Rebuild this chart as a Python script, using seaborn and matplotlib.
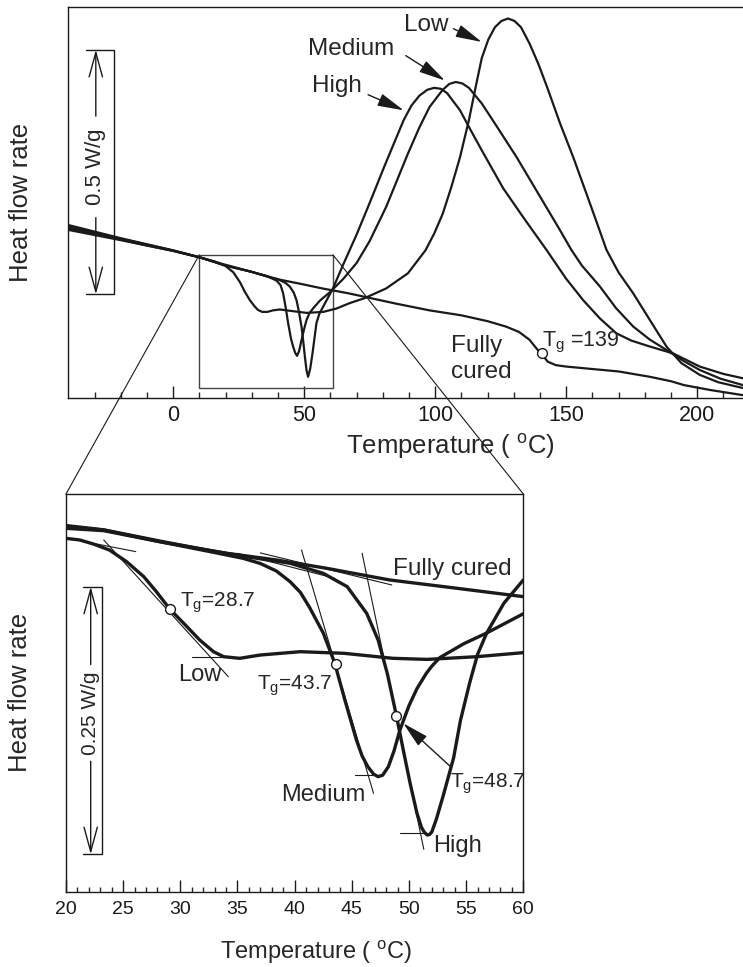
import matplotlib
matplotlib.use("Agg")
import matplotlib.pyplot as plt
from matplotlib.patches import Rectangle, ConnectionPatch
import seaborn as sns

# ---------------- data ----------------
# top panel : full DSC scan, temperature (C) vs heat flow (W/g, offset)
top_fully_t = [-40, -30, -20, -10, 0, 6, 10, 19, 30, 38, 50, 57, 67, 73, 85, 98, 110, 120,
               127, 132, 136, 139, 141, 143, 146, 150, 160, 170, 182, 190, 195, 205, 218]
top_fully_hf = [0.348, 0.337, 0.325, 0.313, 0.302, 0.294, 0.289, 0.275, 0.259, 0.246, 0.233,
                0.225, 0.215, 0.208, 0.194, 0.180, 0.170, 0.158, 0.147, 0.136, 0.120, 0.100,
                0.088, 0.075, 0.068, 0.065, 0.060, 0.055, 0.044, 0.035, 0.027, 0.017, 0.006]

top_low_t = [-40, -20, 0, 10, 16, 20, 23, 25.5, 27.5, 29.3, 31, 32.4, 34, 36, 38, 40.7, 45,
             50.9, 57.3, 62.4, 67.4, 73, 81.3, 89.6, 96.3, 99.6, 102.9, 106.2, 109.5, 112.9,
             115.4, 117.8, 120.3, 122.8, 125.3, 127.8, 130.3, 132.8, 136.1, 139.4, 142.7,
             147.7, 152.7, 157.7, 162.7, 165.4, 170, 175.6, 182, 188.3, 194, 201, 208, 217.5]
top_low_hf = [0.352, 0.327, 0.303, 0.289, 0.280, 0.271, 0.258, 0.238, 0.217, 0.201, 0.189,
              0.181, 0.177, 0.177, 0.180, 0.182, 0.179, 0.175, 0.177, 0.184, 0.195, 0.205,
              0.225, 0.256, 0.303, 0.337, 0.378, 0.433, 0.494, 0.570, 0.636, 0.697, 0.735,
              0.760, 0.773, 0.778, 0.773, 0.760, 0.726, 0.685, 0.638, 0.563, 0.494, 0.420,
              0.345, 0.304, 0.258, 0.215, 0.160, 0.106, 0.072, 0.048, 0.033, 0.021]

top_med_t = [-40, -20, 0, 10, 20, 30, 36, 39.5, 41, 42, 43, 43.9, 45, 45.8, 46.6, 47.3, 48.1,
             49, 50, 50.9, 52, 53.4, 56, 60, 65, 70, 75, 81.3, 89.6, 94, 97.9, 102.9, 105.4,
             107.9, 110.4, 112.9, 117.8, 122.8, 131.1, 139.4, 147.7, 152, 156, 162.9, 169,
             175.6, 182, 188.3, 195, 201, 209, 217.5]
top_med_hf = [0.345, 0.324, 0.302, 0.289, 0.272, 0.259, 0.250, 0.241, 0.232, 0.215, 0.185,
              0.154, 0.122, 0.106, 0.093, 0.087, 0.097, 0.119, 0.142, 0.160, 0.174, 0.184,
              0.200, 0.218, 0.245, 0.277, 0.322, 0.392, 0.501, 0.555, 0.597, 0.632, 0.644,
              0.648, 0.645, 0.636, 0.604, 0.563, 0.494, 0.419, 0.344, 0.304, 0.272, 0.229,
              0.185, 0.147, 0.120, 0.099, 0.076, 0.058, 0.040, 0.027]

top_high_t = [-40, -20, 0, 10, 20, 30, 40, 43, 44.5, 46, 47.1, 48, 49, 49.7, 50.3, 50.9, 51.5,
              52.3, 53.2, 54, 54.7, 55.8, 57.3, 61, 65, 70, 75, 81, 88, 91, 94, 97, 99.6,
              102.2, 104.6, 109.5, 113.5, 117.8, 126, 134, 142.5, 150, 156.5, 163, 169.2, 175,
              182, 190.8, 201, 210, 217.5]
top_high_hf = [0.355, 0.328, 0.303, 0.289, 0.272, 0.259, 0.244, 0.236, 0.229, 0.217, 0.201,
               0.178, 0.147, 0.115, 0.085, 0.058, 0.044, 0.060, 0.092, 0.125, 0.154, 0.173,
               0.188, 0.225, 0.275, 0.335, 0.400, 0.480, 0.570, 0.600, 0.620, 0.632, 0.636,
               0.634, 0.625, 0.590, 0.550, 0.508, 0.430, 0.368, 0.304, 0.245, 0.201, 0.163,
               0.133, 0.118, 0.106, 0.092, 0.065, 0.050, 0.041]

top_tg_t = [140.6]
top_tg_hf = [0.092]

# bottom panel : zoom 20..60 C
bot_fully_t = [20, 23.3, 28.2, 34.1, 38.4, 42.8, 48.3, 54.2, 60]
bot_fully_hf = [0.3415, 0.3383, 0.3274, 0.3165, 0.3103, 0.3025, 0.2916, 0.2838, 0.2760]

bot_low_t = [20, 21.2, 22.4, 23.8, 25.3, 26.8, 27.9, 29.1, 30.3, 31.7, 32.9, 33.8, 35.2, 37,
             40.5, 44.3, 48.6, 51.6, 55.9, 60]
bot_low_hf = [0.3305, 0.3290, 0.3252, 0.3196, 0.3087, 0.2947, 0.2807, 0.2641, 0.2510, 0.2354,
              0.2245, 0.2198, 0.2183, 0.2214, 0.2245, 0.2230, 0.2183, 0.2173, 0.2198, 0.2236]

bot_med_t = [20, 23.3, 28.2, 32.6, 35.5, 37, 38.4, 39.6, 40.5, 41.3, 42.5, 43.5, 44.4, 45.4,
             45.9, 46.4, 46.9, 47.3, 47.7, 48.2, 48.7, 49.2, 50.0, 50.7, 51.5, 52.0, 52.7,
             54.8, 56.8, 60]
bot_med_hf = [0.3399, 0.3377, 0.3274, 0.3181, 0.3118, 0.3070, 0.3000, 0.2900, 0.2800, 0.2660,
              0.2420, 0.2140, 0.1790, 0.1420, 0.1270, 0.1170, 0.1100, 0.1076, 0.1090, 0.1170,
              0.1320, 0.1510, 0.1740, 0.1900, 0.2040, 0.2110, 0.2190, 0.2320, 0.2420, 0.2600]

bot_high_t = [20, 23.3, 28.2, 32.6, 36, 39.6, 42.5, 44.6, 46.3, 47.3, 48.1, 48.9, 49.5, 50.1,
              50.7, 51.1, 51.35, 51.6, 51.8, 52.0, 52.4, 53.0, 53.9, 54.5, 55.3, 56.0, 56.8,
              58.3, 60]
bot_high_hf = [0.3425, 0.3385, 0.3280, 0.3190, 0.3130, 0.3072, 0.2978, 0.2853, 0.2604, 0.2355,
               0.2043, 0.1647, 0.1326, 0.1014, 0.0733, 0.0600, 0.0555, 0.0530, 0.0535, 0.0560,
               0.0680, 0.0900, 0.1250, 0.1600, 0.1950, 0.2220, 0.2420, 0.2698, 0.2916]

bot_tg_t = [29.1, 43.6, 48.9]
bot_tg_hf = [0.2641, 0.2130, 0.1647]

# construction (tangent) lines : [t0, t1], [hf0, hf1]
tangents = [
    ([20.6, 26.1], [0.3296, 0.3181]),
    ([23.3, 34.2], [0.3290, 0.2011]),
    ([31.0, 33.8], [0.2198, 0.2198]),
    ([35.0, 43.5], [0.3165, 0.2932]),
    ([40.6, 46.9], [0.3196, 0.0920]),
    ([45.3, 47.6], [0.1092, 0.1092]),
    ([37.0, 48.5], [0.3169, 0.2869]),
    ([45.9, 51.3], [0.3166, 0.0396]),
    ([49.2, 51.6], [0.0546, 0.0546]),
]

# ---------------- style ----------------
sns.set_theme(style="white")
plt.rcParams["font.family"] = ["Liberation Sans", "DejaVu Sans"]
plt.rcParams["mathtext.fontset"] = "custom"
plt.rcParams["mathtext.rm"] = "Liberation Sans"
plt.rcParams["mathtext.it"] = "Liberation Sans:italic"
FS = 17
FS_TG = 15

fig = plt.figure(figsize=(7.43, 9.67), dpi=100)
ax1 = fig.add_axes([68.3 / 743, (967 - 398.3) / 967, (743 - 68.3) / 743, 391 / 967])
ax2 = fig.add_axes([66 / 743, (967 - 891.7) / 967, 457.3 / 743, 397.7 / 967])


def dsc_line(ax, t, hf, lw):
    sns.lineplot(x=t, y=hf, ax=ax, color="k", lw=lw, sort=False, estimator=None)


def scale_bar(ax, x_arrow, x_left, x_right, y_bot, y_top, gap_lo, gap_hi, label, fs):
    ax.plot([x_left, x_right, x_right, x_left], [y_top, y_top, y_bot, y_bot], color="k", lw=1.0)
    ap = dict(arrowstyle="->,head_length=1.1,head_width=0.3", color="k", lw=1.0,
              shrinkA=0, shrinkB=0, mutation_scale=16)
    ax.annotate("", xy=(x_arrow, y_top), xytext=(x_arrow, gap_hi), arrowprops=ap)
    ax.annotate("", xy=(x_arrow, y_bot), xytext=(x_arrow, gap_lo), arrowprops=ap)
    ax.text(x_arrow, (gap_lo + gap_hi) / 2, label, rotation=90, ha="center", va="center",
            fontsize=fs)


label_arrow = dict(arrowstyle="-|>,head_length=0.9,head_width=0.22", color="k", lw=1.0,
                   shrinkA=0, shrinkB=0, mutation_scale=18)

# ---------------- top panel ----------------
for t, hf in [(top_fully_t, top_fully_hf), (top_low_t, top_low_hf),
              (top_med_t, top_med_hf), (top_high_t, top_high_hf)]:
    dsc_line(ax1, t, hf, 1.6)
ax1.scatter(top_tg_t, top_tg_hf, s=50, facecolor="white", edgecolor="k", lw=1.0, zorder=5)

ax1.add_patch(Rectangle((10, 0.0205), 51, 0.2735, fill=False, edgecolor="#444444", lw=1.0))

scale_bar(ax1, -29.5, -33.2, -22.5, 0.213, 0.714, 0.370, 0.578, "0.5 W/g", 16)

ax1.text(88.0, 0.752, "Low", fontsize=17.5, ha="left", va="baseline")
ax1.annotate("", xy=(117.8, 0.730), xytext=(107, 0.757), arrowprops=label_arrow)
ax1.text(51.5, 0.703, "Medium", fontsize=17.5, ha="left", va="baseline")
ax1.annotate("", xy=(103.7, 0.651), xytext=(88.8, 0.702), arrowprops=label_arrow)
ax1.text(53, 0.627, "High", fontsize=17.5, ha="left", va="baseline")
ax1.annotate("", xy=(88, 0.590), xytext=(74.4, 0.622), arrowprops=label_arrow)
ax1.text(106, 0.0954, "Fully", fontsize=17.5, ha="left", va="baseline")
ax1.text(106, 0.042, "cured", fontsize=17.5, ha="left", va="baseline")
ax1.text(140.7, 0.106, r"T$_\mathrm{g}$ =139", fontsize=FS_TG + 0.5, ha="left", va="baseline")

ax1.set_xlim(-40, 217.5)
ax1.set_ylim(0, 0.801)
ax1.set_xticks([0, 50, 100, 150, 200])
ax1.set_xticks(range(-30, 218, 10), minor=True)
ax1.set_yticks([])
ax1.tick_params(axis="x", which="major", direction="in", length=8.6, width=1.0,
                labelsize=15.5, pad=5, bottom=True, top=False, colors="k")
ax1.tick_params(axis="x", which="minor", direction="in", length=4.3, width=1.0,
                bottom=True, top=False)
ax1.spines["right"].set_visible(False)
ax1.set_xlabel(r"Temperature ( $^\mathrm{o}$C)", fontsize=18.5)
ax1.xaxis.set_label_coords(0.566, -0.085)
ax1.set_ylabel("Heat flow rate", fontsize=18.5)
ax1.yaxis.set_label_coords(-0.052, 0.5)

# ---------------- bottom panel ----------------
for t, hf in tangents:
    ax2.plot(t, hf, color="k", lw=0.8)
for t, hf in [(bot_fully_t, bot_fully_hf), (bot_low_t, bot_low_hf),
              (bot_med_t, bot_med_hf), (bot_high_t, bot_high_hf)]:
    dsc_line(ax2, t, hf, 2.4)
ax2.scatter(bot_tg_t, bot_tg_hf, s=50, facecolor="white", edgecolor="k", lw=1.0, zorder=5)

scale_bar(ax2, 22.16, 21.5, 23.18, 0.035, 0.2853, 0.122, 0.2125, "0.25 W/g", 15)

ax2.text(48.6, 0.296, "Fully cured", fontsize=17.5, ha="left", va="baseline")
ax2.text(30.0, 0.2666, r"T$_\mathrm{g}$=28.7", fontsize=FS_TG, ha="left", va="baseline")
ax2.text(29.8, 0.197, "Low", fontsize=FS, ha="left", va="baseline")
ax2.text(36.7, 0.1887, r"T$_\mathrm{g}$=43.7", fontsize=FS_TG, ha="left", va="baseline")
ax2.text(38.8, 0.085, "Medium", fontsize=FS, ha="left", va="baseline")
ax2.text(53.6, 0.0976, r"T$_\mathrm{g}$=48.7", fontsize=FS_TG, ha="left", va="baseline")
ax2.annotate("", xy=(49.5, 0.1575), xytext=(53.7, 0.1163), arrowprops=label_arrow)
ax2.text(52.1, 0.0374, "High", fontsize=FS, ha="left", va="baseline")

ax2.set_xlim(20, 60)
ax2.set_ylim(0, 0.372)
ax2.set_xticks(range(20, 61, 5))
ax2.set_xticks(range(20, 61, 1), minor=True)
ax2.set_yticks([])
ax2.tick_params(axis="x", which="major", direction="in", length=8.4, width=1.0,
                labelsize=14, pad=7, bottom=True, top=False, colors="k")
ax2.tick_params(axis="x", which="minor", direction="in", length=3.6, width=1.0,
                bottom=True, top=False)
ax2.set_xlabel(r"Temperature ( $^\mathrm{o}$C)", fontsize=17)
ax2.xaxis.set_label_coords(0.547, -0.118)
ax2.set_ylabel("Heat flow rate", fontsize=18.5)
ax2.yaxis.set_label_coords(-0.074, 0.5)

for ax in (ax1, ax2):
    for sp in ax.spines.values():
        sp.set_color("k")
        sp.set_linewidth(1.0)

# lines joining the zoom box to the lower panel
for x_box, x_frac in [(10, 0.0), (61, 1.0)]:
    con = ConnectionPatch(xyA=(x_box, 0.294), coordsA="data", axesA=ax1,
                          xyB=(x_frac, 1.0), coordsB="axes fraction", axesB=ax2,
                          color="k", lw=0.8)
    fig.add_artist(con)

fig.savefig("out.png", dpi=100)
